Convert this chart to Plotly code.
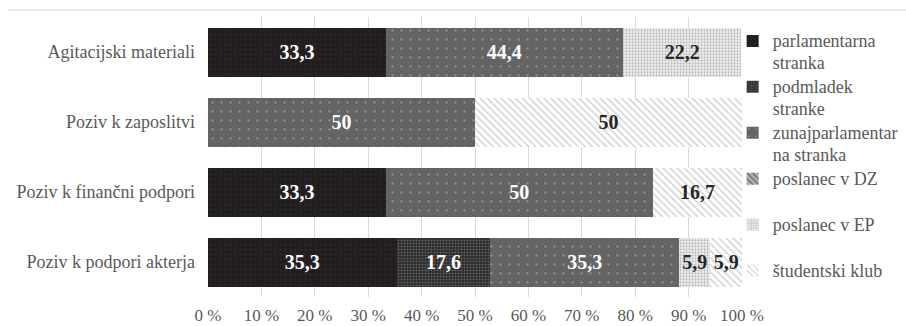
import plotly.graph_objects as go

categories = ["Agitacijski materiali", "Poziv k zaposlitvi",
              "Poziv k finančni podpori", "Poziv k podpori akterja"]

series_names = ["parlamentarna<br>stranka", "podmladek<br>stranke",
                "zunajparlamentar<br>na stranka", "poslanec v DZ",
                "poslanec v EP", "študentski klub"]

parlamentarna = [33.3, None, 33.3, 35.3]
podmladek = [None, None, None, 17.6]
zunajparlamentarna = [44.4, 50, 50, 35.3]
poslanec_dz = [None, None, None, None]
poslanec_ep = [22.2, None, None, 5.9]
studentski = [None, 50, 16.7, 5.9]

tick_vals = [0, 10, 20, 30, 40, 50, 60, 70, 80, 90, 100]
tick_text = ["0 %", "10 %", "20 %", "30 %", "40 %", "50 %",
             "60 %", "70 %", "80 %", "90 %", "100 %"]

SERIF = "Times New Roman, Liberation Serif, Tinos, DejaVu Serif, serif"
TEXT_GREY = "#595959"

styles = [
    dict(shape=".", fg="#2e2a2b", bg="#221e1f", size=5, sol=0.15, txt="white"),
    dict(shape=".", fg="#5e5e5e", bg="#2a2a2a", size=3, sol=0.4, txt="white"),
    dict(shape=".", fg="#929292", bg="#646464", size=9, sol=0.05, txt="white"),
    dict(shape="\\", fg="#6e6e6e", bg="#b8b8b8", size=5, sol=0.4, txt="#262626"),
    dict(shape=".", fg="#bdbdbd", bg="#f4f4f4", size=3, sol=0.45, txt="#262626"),
    dict(shape="\\", fg="#cacaca", bg="#ffffff", size=5, sol=0.25, txt="#262626"),
]

all_series = [parlamentarna, podmladek, zunajparlamentarna,
              poslanec_dz, poslanec_ep, studentski]


def fmt(v):
    if v is None:
        return ""
    return ("%g" % v).replace(".", ",")


fig = go.Figure()
for name, vals, st in zip(series_names, all_series, styles):
    label = name if "<br>" in name else name + "<br>&nbsp;"
    legend_label = ("<span style='font-size:18px'>"
                    + label.replace("<br>", "</span><br><span style='font-size:18px'>")
                    + "</span>")
    fig.add_trace(go.Bar(
        y=categories,
        x=[v if v is not None else 0 for v in vals],
        orientation="h",
        name=legend_label,
        text=[fmt(v) for v in vals],
        textposition="inside",
        insidetextanchor="middle",
        textangle=0,
        constraintext="none",
        textfont=dict(family=SERIF, size=20, color=st["txt"], weight="bold"),
        marker=dict(
            color=st["bg"],
            line=dict(width=0),
            pattern=dict(shape=st["shape"], fgcolor=st["fg"], bgcolor=st["bg"],
                         size=st["size"], solidity=st["sol"], fillmode="replace"),
        ),
        hoverinfo="skip",
    ))

fig.update_layout(
    width=906, height=326,
    margin=dict(l=208, r=164, t=17, b=29, autoexpand=False),
    barmode="stack",
    bargap=0.3,
    plot_bgcolor="white",
    paper_bgcolor="white",
    font=dict(family=SERIF, color=TEXT_GREY, size=18),
    uniformtext=dict(minsize=20, mode="show"),
    showlegend=True,
    legend=dict(
        x=0.9825, xanchor="left", y=0.976, yanchor="top",
        traceorder="normal", valign="top", maxheight=326,
        font=dict(family=SERIF, size=16.5, color=TEXT_GREY),
        bgcolor="rgba(0,0,0,0)", borderwidth=0,
    ),
    xaxis=dict(
        range=[0, 100], tickvals=tick_vals, ticktext=tick_text,
        showgrid=True, gridcolor="#d9d9d9", gridwidth=1,
        zeroline=False, showline=False, ticks="",
        tickfont=dict(family=SERIF, size=17, color=TEXT_GREY),
        ticklabelstandoff=6, fixedrange=True, automargin=False,
    ),
    yaxis=dict(
        categoryorder="array", categoryarray=categories, autorange="reversed",
        showgrid=False, zeroline=False, showline=False, ticks="",
        tickfont=dict(family=SERIF, size=18, color=TEXT_GREY),
        ticklabelstandoff=12, fixedrange=True, automargin=False,
    ),
    shapes=[dict(type="line", xref="paper", yref="paper",
                 x0=(8 - 208) / 534, x1=(906 - 208) / 534,
                 y0=(297 - 10) / 280, y1=(297 - 10) / 280,
                 line=dict(color="#d9d9d9", width=1))],
)

fig.write_html("out.html")
